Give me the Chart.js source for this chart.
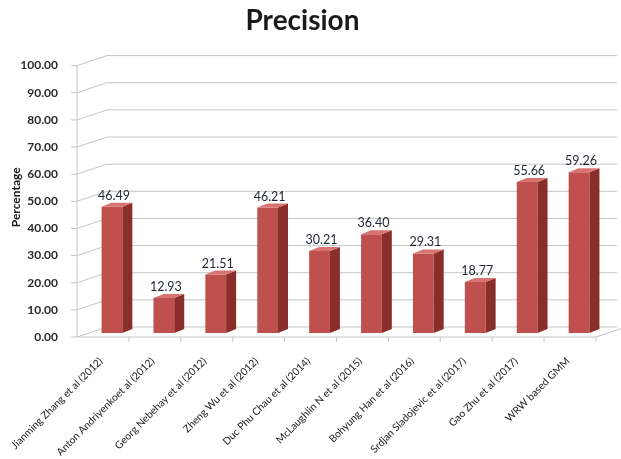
<!DOCTYPE html>
<html><head><meta charset="utf-8">
<script src="https://cdn.jsdelivr.net/npm/chart.js@4/dist/chart.umd.min.js"></script>
<style>html,body{margin:0;padding:0;background:#fff;}#wrap{width:621px;height:459px;position:relative;}</style>
</head><body><div id="wrap"><canvas id="c" width="621" height="459"></canvas></div>
<script>
const categories = [
  "Jianming Zhang et al (2012)",
  "Anton Andriyenkoet al (2012)",
  "Georg Nebehay et al (2012)",
  "Zheng Wu et al (2012)",
  "Duc Phu Chau et al (2014)",
  "McLaughlin N et al (2015)",
  "Bohyung Han et al (2016)",
  "Srdjan Sladojevic et al (2017)",
  "Gao Zhu et al (2017)",
  "WRW based GMM"
];
const precision = [46.49, 12.93, 21.51, 46.21, 30.21, 36.40, 29.31, 18.77, 55.66, 59.26];
const yTickValues = [0, 10, 20, 30, 40, 50, 60, 70, 80, 90, 100];

const FRONT = '#C0504D', SIDE = '#8A2E2B', TOP = '#D77370';

const plot3d = {
  id: 'plot3d',
  beforeDatasetsDraw(chart) {
    const ctx = chart.ctx, ys = chart.scales.y, a = chart.chartArea;
    const L = a.left - 9, DX = 30, DY = 10, FO = 4;
    const rightEnd = a.right + 12;
    ctx.save();
    ctx.strokeStyle = '#c4c4c4';
    ctx.lineWidth = 1;
    yTickValues.forEach(v => {
      const yf = ys.getPixelForValue(v) + FO;
      const yb = yf - DY;
      ctx.beginPath();
      ctx.moveTo(L - 6, yf); ctx.lineTo(L, yf);
      ctx.lineTo(L + DX, yb); ctx.lineTo(rightEnd, yb);
      ctx.stroke();
    });
    const y0 = ys.getPixelForValue(0) + FO, y100 = ys.getPixelForValue(100) + FO;
    ctx.beginPath();
    ctx.moveTo(L, y0); ctx.lineTo(L, y100);
    ctx.stroke();
    const fr = a.right - 9;
    ctx.beginPath();
    ctx.moveTo(L, y0); ctx.lineTo(fr, y0); ctx.lineTo(fr + DX, y0 - DY);
    ctx.stroke();
    const w = (a.right - a.left) / categories.length;
    for (let i = 1; i <= categories.length; i++) {
      const x = a.left + i * w - 9;
      ctx.beginPath(); ctx.moveTo(x, y0); ctx.lineTo(x, y0 + 5); ctx.stroke();
    }
    ctx.restore();
  },
  afterDatasetsDraw(chart) {
    const ctx = chart.ctx, meta = chart.getDatasetMeta(0);
    const d = 10, h = 4;
    ctx.save();
    meta.data.forEach((bar, i) => {
      const p = bar.getProps(['x', 'y', 'base', 'width'], true);
      const l = p.x - p.width / 2, r = p.x + p.width / 2;
      ctx.fillStyle = SIDE;
      ctx.beginPath();
      ctx.moveTo(r, p.y); ctx.lineTo(r + d, p.y - h); ctx.lineTo(r + d, p.base - h); ctx.lineTo(r, p.base);
      ctx.closePath(); ctx.fill();
      ctx.fillStyle = TOP;
      ctx.beginPath();
      ctx.moveTo(l, p.y); ctx.lineTo(l + d, p.y - h); ctx.lineTo(r + d, p.y - h); ctx.lineTo(r, p.y);
      ctx.closePath(); ctx.fill();
      ctx.fillStyle = '#1f2533';
      ctx.font = '12.5px Lato';
      ctx.textAlign = 'center';
      ctx.textBaseline = 'alphabetic';
      ctx.fillText(precision[i].toFixed(2), p.x + 2, p.y - 7);
    });
    ctx.restore();
  }
};

new Chart(document.getElementById('c'), {
  type: 'bar',
  data: {
    labels: categories,
    datasets: [{
      label: 'Precision',
      data: precision,
      backgroundColor: FRONT,
      borderWidth: 0,
      barPercentage: 0.4,
      categoryPercentage: 1.0
    }]
  },
  options: {
    responsive: false,
    animation: false,
    layout: { padding: { left: 0, right: 16, top: 0, bottom: 0 } },
    plugins: {
      legend: { display: false },
      tooltip: { enabled: false },
      title: {
        display: true,
        text: 'Precision',
        color: '#1a1a1a',
        font: { family: 'Lato', size: 28, weight: 'bold' },
        padding: { top: 4, bottom: 24 }
      }
    },
    scales: {
      x: {
        grid: { display: false },
        border: { display: false },
        ticks: {
          autoSkip: false,
          maxRotation: 45, minRotation: 45,
          padding: 14,
          labelOffset: -11,
          color: '#222',
          font: { family: 'Lato', size: 10.3 }
        },
        afterFit(scale) { scale.height = 126; }
      },
      y: {
        min: 0, max: 100,
        grid: { display: false },
        border: { display: false },
        ticks: {
          stepSize: 10,
          padding: 20,
          labelOffset: 4,
          color: '#2a2a2a',
          font: { family: 'Lato', size: 12, weight: 'bold' },
          callback: v => Number(v).toFixed(2)
        },
        title: {
          display: true,
          text: 'Percentage',
          color: '#1a1a1a',
          font: { family: 'Lato', size: 12, weight: 'bold' },
          padding: { top: 9, bottom: 0 }
        },
        afterFit(scale) { scale.width = 86; }
      }
    }
  },
  plugins: [plot3d]
});
</script></body></html>
